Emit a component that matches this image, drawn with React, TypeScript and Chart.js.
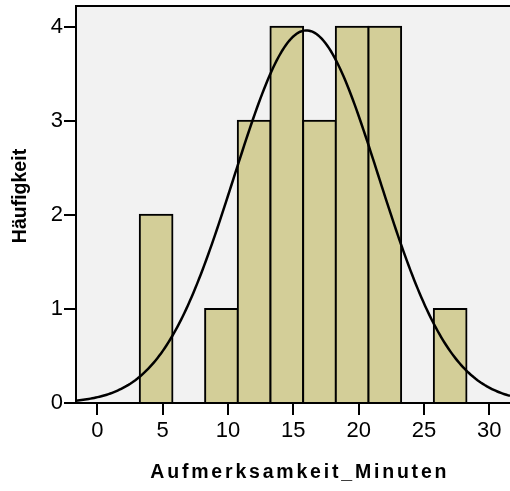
import React, { useEffect, useRef } from 'react';
import { Chart, registerables, LinearScale } from 'chart.js';

// ---- data ----
const binMidpoints = [4.5, 7, 9.5, 12, 14.5, 17, 19.5, 22, 24.5, 27];
const frequencies = [2, 0, 1, 3, 4, 3, 4, 4, 0, 1];
const binWidth = 2.5;
const xTickValues = [0, 5, 10, 15, 20, 25, 30];
const yTickValues = [0, 1, 2, 3, 4];
const curveMean = 16.0;
const curveSd = 5.54;
const xMin = -1.63;
const xMax = 31.58;
const yMax = 4.22;
const xTitle = 'Aufmerksamkeit_Minuten';
const yTitle = 'Häufigkeit';

const FONT = "'Liberation Sans', Arial, Helvetica, sans-serif";

const titleTweaks: Record<string, { dx: number; dy: number; spacing: number }> = {
  x: { dx: 6.8, dy: 0, spacing: 2.8 },
  y: { dx: 0, dy: -8.5, spacing: 0 },
};

class TitledLinearScale extends LinearScale {
  static id = 'titledLinear';
  static defaults = LinearScale.defaults;
  drawTitle() {
    const ctx = this.ctx;
    const t = titleTweaks[this.id] || { dx: 0, dy: 0, spacing: 0 };
    ctx.save();
    ctx.translate(t.dx, t.dy);
    (ctx as any).letterSpacing = t.spacing + 'px';
    super.drawTitle();
    ctx.restore();
  }
}

Chart.register(...registerables, TitledLinearScale);

const plotFrame = {
  id: 'plotFrame',
  beforeDraw(chart: any) {
    const { ctx, chartArea } = chart;
    ctx.save();
    ctx.fillStyle = '#f2f2f2';
    ctx.fillRect(chartArea.left, chartArea.top, chartArea.right - chartArea.left, chartArea.bottom - chartArea.top);
    ctx.strokeStyle = '#000';
    ctx.lineWidth = 2;
    ctx.beginPath();
    ctx.moveTo(chartArea.left, chartArea.top);
    ctx.lineTo(chartArea.right, chartArea.top);
    ctx.stroke();
    ctx.restore();
  },
};

const noScalePadding = (s: any) => {
  s.paddingTop = 0;
  s.paddingBottom = 0;
  s.paddingLeft = 0;
  s.paddingRight = 0;
};

export default function App() {
  const ref = useRef<HTMLCanvasElement | null>(null);

  useEffect(() => {
    if (!ref.current) return;
    const n = frequencies.reduce((a, b) => a + b, 0);
    const scale = (n * binWidth) / (curveSd * Math.sqrt(2 * Math.PI));
    const curve: { x: number; y: number }[] = [];
    const steps = 240;
    for (let i = 0; i <= steps; i++) {
      const x = xMin + ((xMax - xMin) * i) / steps;
      const z = (x - curveMean) / curveSd;
      curve.push({ x, y: scale * Math.exp(-0.5 * z * z) });
    }
    const bars = binMidpoints.map((m, i) => ({ x: m, y: frequencies[i] > 0 ? frequencies[i] : null }));

    const chart = new Chart(ref.current, {
      type: 'bar',
      data: {
        datasets: [
          {
            type: 'line',
            data: curve,
            borderColor: '#000',
            borderWidth: 2.5,
            pointRadius: 0,
            tension: 0,
            fill: false,
            order: 0,
          } as any,
          {
            type: 'bar',
            data: bars as any,
            backgroundColor: '#d3ce98',
            borderColor: '#000',
            borderWidth: 2,
            inflateAmount: 1,
            barPercentage: 1,
            categoryPercentage: 1,
            grouped: false,
            order: 1,
          } as any,
        ],
      },
      options: {
        responsive: false,
        animation: false,
        devicePixelRatio: 1,
        layout: { padding: { top: 6, right: 0, left: 0, bottom: 0 } },
        plugins: { legend: { display: false }, tooltip: { enabled: false } },
        scales: {
          x: {
            type: 'titledLinear' as any,
            offset: false,
            min: xMin,
            max: xMax,
            afterBuildTicks: (s: any) => {
              s.ticks = xTickValues.map((v) => ({ value: v }));
            },
            afterFit: (s: any) => {
              s.height = 88;
              noScalePadding(s);
            },
            grid: { offset: false, drawOnChartArea: false, drawTicks: true, tickLength: 12, color: '#000', lineWidth: 2 },
            border: { display: true, color: '#000', width: 2, z: 1 },
            ticks: { color: '#000', font: { family: FONT, size: 22 }, padding: 3, maxRotation: 0, autoSkip: false },
            title: {
              display: true,
              text: xTitle,
              color: '#000',
              font: { family: FONT, size: 19.5, weight: 'bold' },
              padding: { top: 0, bottom: 7 },
            },
          },
          y: {
            type: 'titledLinear' as any,
            offset: false,
            min: 0,
            max: yMax,
            afterBuildTicks: (s: any) => {
              s.ticks = yTickValues.map((v) => ({ value: v }));
            },
            afterFit: (s: any) => {
              s.width = 76;
              noScalePadding(s);
            },
            grid: { offset: false, drawOnChartArea: false, drawTicks: true, tickLength: 12, color: '#000', lineWidth: 2 },
            border: { display: true, color: '#000', width: 2, z: 1 },
            ticks: { color: '#000', font: { family: FONT, size: 22 }, padding: 1 },
            title: {
              display: true,
              text: yTitle,
              color: '#000',
              font: { family: FONT, size: 19.5, weight: 'bold' },
              padding: { top: 8.5, bottom: 0 },
            },
          },
        },
      },
      plugins: [plotFrame],
    });
    return () => chart.destroy();
  }, []);

  return (
    <div style={{ position: 'fixed', left: 0, top: 0, width: 510, height: 491, background: '#fff' }}>
      <canvas ref={ref} width={510} height={491} style={{ width: 510, height: 491, display: 'block' }} />
    </div>
  );
}
